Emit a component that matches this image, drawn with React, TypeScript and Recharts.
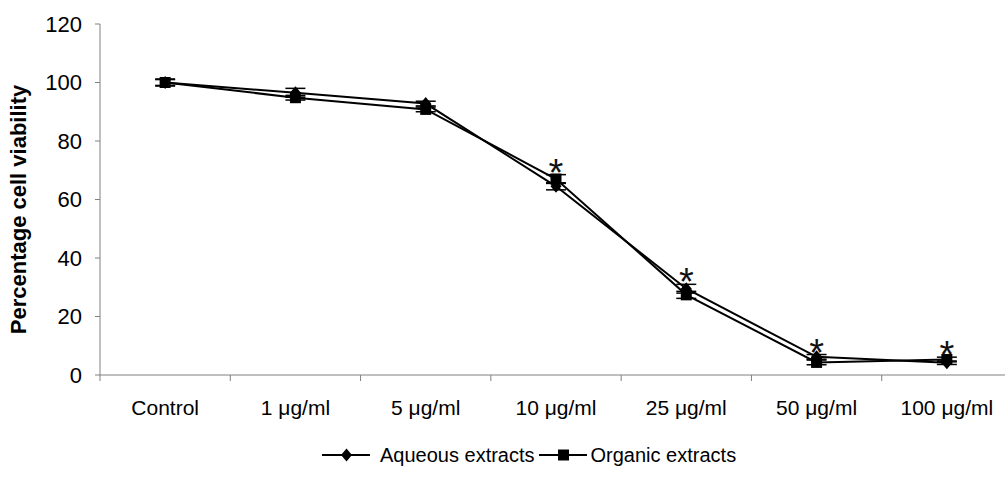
import React from "react";
import {
  LineChart,
  Line,
  XAxis,
  YAxis,
  ErrorBar,
  LabelList,
} from "recharts";

const categories = ["Control", "1 μg/ml", "5 μg/ml", "10 μg/ml", "25 μg/ml", "50 μg/ml", "100 μg/ml"];
const aqueous = [100, 96.5, 92.8, 64.5, 29.5, 6.2, 4.2];
const aqueousErr = [1.0, 1.5, 0.8, 1.2, 1.5, 0.8, 0.6];
const organic = [100, 94.8, 90.8, 67, 27.4, 4.3, 5.3];
const organicErr = [1.2, 0.8, 0.8, 1.5, 1.2, 0.8, 0.8];
const significant = [false, false, false, true, true, true, true];
const yTicks = [0, 20, 40, 60, 80, 100, 120];
const seriesNames = ["Aqueous extracts", "Organic extracts"];

const FONT = "'Liberation Sans', Arial, sans-serif";
const CHART_W = 1013;
const CHART_H = 481;
const LEFT = 100;
const RIGHT = 1;
const BAND = (CHART_W - LEFT - RIGHT) / categories.length;

const data = categories.map((name, i) => ({
  name,
  aqueous: aqueous[i],
  aqueousErr: aqueousErr[i],
  organic: organic[i],
  organicErr: organicErr[i],
  // asterisk sits above the higher of the two error bars
  starAt: Math.max(aqueous[i] + aqueousErr[i], organic[i] + organicErr[i]),
  star: significant[i] ? "*" : "",
}));

const Diamond = ({ cx, cy, index }: any) => (
  <polygon
    key={`dia-${index}`}
    points={`${cx},${cy - 6.5} ${cx + 5.5},${cy} ${cx},${cy + 6.5} ${cx - 5.5},${cy}`}
    fill="#000"
  />
);

const Square = ({ cx, cy, index }: any) => (
  <rect key={`sq-${index}`} x={cx - 5.5} y={cy - 5.5} width={11} height={11} fill="#000" />
);

// category label in the middle, tick mark on the left boundary of each band
const XTick = ({ x, y, payload }: any) => (
  <g>
    <line x1={x - BAND / 2} x2={x - BAND / 2} y1={y} y2={y + 6} stroke="#808080" strokeWidth={1} />
    <text x={x} y={y + 40} textAnchor="middle" fill="#000" fontSize={21} fontFamily={FONT}>
      {payload.value}
    </text>
  </g>
);

const Star = ({ x, y, value }: any) =>
  value ? (
    <text x={x} y={y + 11} textAnchor="middle" fill="#111" fontSize={38} fontFamily={FONT}>
      {value}
    </text>
  ) : null;

const LegendIcon = ({ square }: { square: boolean }) => (
  <svg width={48} height={14} style={{ display: "block" }}>
    <line x1={0} x2={48} y1={7} y2={7} stroke="#000" strokeWidth={2} />
    {square ? (
      <rect x={19} y={1.5} width={11} height={11} fill="#000" />
    ) : (
      <polygon points="24.5,0.5 30,7 24.5,13.5 19,7" fill="#000" />
    )}
  </svg>
);

export default function App() {
  return (
    <div
      style={{
        position: "absolute",
        left: 0,
        top: 0,
        width: 1005,
        height: 481,
        overflow: "hidden",
        background: "#fff",
      }}
    >
      <LineChart
        width={CHART_W}
        height={CHART_H}
        data={data}
        margin={{ top: 24, right: RIGHT, left: 0, bottom: 76 }}
      >
        <XAxis
          dataKey="name"
          scale="band"
          axisLine={{ stroke: "#808080", strokeWidth: 1 }}
          tickLine={false}
          tickSize={0}
          tickMargin={0}
          height={30}
          interval={0}
          tick={<XTick />}
        />
        <YAxis
          width={LEFT}
          domain={[0, 120]}
          ticks={yTicks}
          interval={0}
          axisLine={{ stroke: "#808080", strokeWidth: 1 }}
          tickLine={{ stroke: "#808080", strokeWidth: 1 }}
          tickSize={5}
          tickMargin={13}
          tick={{ fill: "#000", fontSize: 22, fontFamily: FONT }}
          label={{
            value: "Percentage cell viability",
            angle: -90,
            position: "insideLeft",
            dx: 13,
            dy: 10,
            style: {
              textAnchor: "middle",
              fontWeight: "bold",
              fontSize: 22,
              fontFamily: FONT,
              fill: "#000",
            },
          }}
        />
        <Line
          type="linear"
          dataKey="aqueous"
          name={seriesNames[0]}
          stroke="#000"
          strokeWidth={2}
          dot={Diamond}
          activeDot={false}
          isAnimationActive={false}
        >
          <ErrorBar dataKey="aqueousErr" width={10} stroke="#000" strokeWidth={1.5} />
        </Line>
        <Line
          type="linear"
          dataKey="organic"
          name={seriesNames[1]}
          stroke="#000"
          strokeWidth={2}
          dot={Square}
          activeDot={false}
          isAnimationActive={false}
        >
          <ErrorBar dataKey="organicErr" width={10} stroke="#000" strokeWidth={1.5} />
        </Line>
        <Line
          dataKey="starAt"
          stroke="none"
          dot={false}
          activeDot={false}
          legendType="none"
          isAnimationActive={false}
        >
          <LabelList dataKey="star" content={<Star />} />
        </Line>
      </LineChart>

      <div
        style={{
          position: "absolute",
          left: 322,
          top: 444,
          display: "flex",
          alignItems: "center",
          fontFamily: FONT,
          fontSize: 20,
          color: "#000",
          lineHeight: "22px",
        }}
      >
        <LegendIcon square={false} />
        <span style={{ marginLeft: 10, marginRight: 4 }}>{seriesNames[0]}</span>
        <LegendIcon square={true} />
        <span style={{ marginLeft: 4 }}>{seriesNames[1]}</span>
      </div>
    </div>
  );
}
